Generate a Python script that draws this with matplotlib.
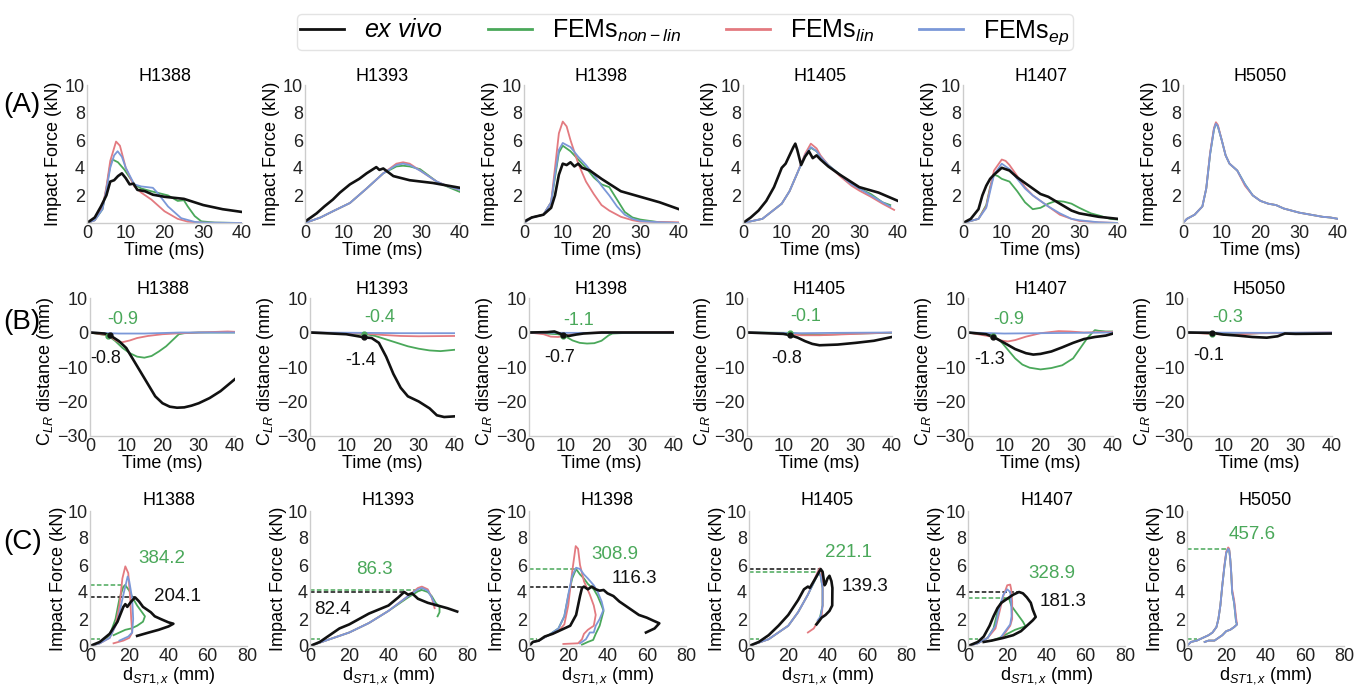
import numpy as np
import matplotlib.pyplot as plt
from matplotlib.lines import Line2D

plt.rcParams['font.family'] = ['Liberation Sans', 'DejaVu Sans']
plt.rcParams['mathtext.fontset'] = 'custom'
plt.rcParams['mathtext.rm'] = 'Liberation Sans'
plt.rcParams['mathtext.it'] = 'Liberation Sans:italic'
plt.rcParams['mathtext.bf'] = 'Liberation Sans:bold'

specimens = ["H1388", "H1393", "H1398", "H1405", "H1407", "H5050"]

# ---- (A) impact force (kN) vs time (ms): (time, force)
h5050_t = [0, 1, 3, 5, 6, 7, 8, 8.5, 9, 10, 11, 12, 14, 16, 18, 20, 22, 24, 26, 28, 30, 33, 36, 38, 40]
h5050_f = [0, 0.3, 0.6, 1.2, 2.5, 5.0, 6.8, 7.2, 7.0, 6.0, 4.9, 4.3, 3.8, 2.8, 2.0, 1.6, 1.4, 1.3, 1.05, 0.9, 0.75, 0.6, 0.45, 0.4, 0.3]

force_exvivo = {
    "H1388": ([0, 2, 3.6, 5, 6, 7, 8, 9, 10, 11, 12, 13, 15, 17, 20, 25, 30, 35, 40],
              [0, 0.4, 1.2, 2.0, 3.0, 3.1, 3.4, 3.6, 3.25, 2.8, 2.85, 2.4, 2.3, 2.05, 1.9, 1.75, 1.3, 1.0, 0.8]),
    "H1393": ([0, 3, 5, 7.2, 9, 11.6, 14, 15.9, 18.4, 19.2, 20.2, 22.8, 27, 33, 40],
              [0.1, 0.7, 1.2, 1.7, 2.2, 2.8, 3.2, 3.6, 4.05, 3.85, 3.95, 3.4, 3.1, 2.9, 2.55]),
    "H1398": ([0, 2, 5, 7, 8, 9, 10, 11, 12, 13, 14, 15, 17, 20, 25, 30, 35, 40],
              [0.1, 0.4, 0.6, 1.1, 2.0, 3.5, 4.3, 4.2, 4.4, 4.1, 4.3, 4.0, 3.8, 3.2, 2.3, 1.9, 1.5, 1.0]),
    "H1405": ([0, 2, 4, 6, 8, 10, 11, 12, 13, 13.5, 14, 15, 16, 17, 18, 19, 20, 22, 25, 30, 35, 40],
              [0, 0.4, 0.9, 1.6, 2.6, 4.0, 4.3, 4.9, 5.5, 5.75, 5.3, 4.2, 4.8, 5.2, 4.7, 4.9, 4.6, 4.1, 3.5, 2.6, 2.2, 1.6]),
    "H1407": ([0, 2, 4, 5, 6, 7, 8, 10, 12, 14, 16, 18, 20, 22, 25, 28, 30, 35, 40],
              [0, 0.3, 1.0, 2.0, 2.7, 3.2, 3.5, 4.0, 3.8, 3.3, 2.9, 2.5, 2.1, 1.9, 1.4, 0.9, 0.7, 0.45, 0.3]),
    "H5050": None,
}
force_nonlin = {
    "H1388": ([0, 2, 4, 5, 6, 6.6, 8, 9.7, 12.2, 14, 16.6, 20.9, 23.4, 25, 26, 27.8, 29.5, 33, 40],
              [0, 0.2, 1.0, 2.5, 4.2, 4.6, 4.4, 3.85, 2.8, 2.5, 2.3, 2.0, 1.6, 1.65, 1.2, 0.5, 0.12, 0.03, 0]),
    "H1393": ([0, 4, 7.2, 11.6, 15.9, 20.2, 23.6, 25.3, 27, 29.7, 34, 37, 40],
              [0, 0.4, 0.85, 1.45, 2.5, 3.6, 4.1, 4.15, 4.1, 3.9, 3.0, 2.6, 2.25]),
    "H1398": ([0, 2, 5, 7, 8, 9, 10, 12, 14, 16, 18, 20, 22, 24, 26, 28, 30, 35, 40],
              [0, 0.4, 0.6, 1.5, 3.3, 5.1, 5.6, 5.2, 4.6, 4.0, 3.3, 2.8, 2.6, 1.7, 0.8, 0.4, 0.25, 0.05, 0]),
    "H1405": ([0, 5, 10, 12, 14, 16, 17.5, 19, 20, 22, 25, 28, 30, 33, 36, 38],
              [0, 0.3, 1.4, 2.3, 3.6, 4.9, 5.45, 5.2, 4.8, 4.2, 3.5, 2.8, 2.5, 2.1, 1.5, 1.3]),
    "H1407": ([0, 4, 6, 7, 8, 9, 10, 12, 14, 16, 18, 20, 22, 24, 26, 28, 30, 33, 35, 38, 40],
              [0, 0.3, 1.3, 2.6, 3.5, 3.4, 3.2, 3.0, 2.3, 1.5, 1.0, 1.1, 1.4, 1.6, 1.55, 1.4, 1.1, 0.7, 0.55, 0.3, 0.25]),
    "H5050": (h5050_t, h5050_f),
}
force_lin = {
    "H1388": ([0, 2, 4, 5, 6, 7.5, 8.5, 10, 12.2, 14, 16.6, 20, 23.4, 26, 30, 40],
              [0, 0.2, 1.1, 2.6, 4.5, 5.9, 5.6, 4.0, 2.65, 2.2, 1.7, 0.85, 0.3, 0.1, 0.02, 0]),
    "H1393": ([0, 4, 7.2, 11.6, 15.9, 20.2, 23.6, 25.3, 27, 29.7, 34, 37, 40],
              [0, 0.4, 0.85, 1.45, 2.5, 3.6, 4.3, 4.4, 4.3, 3.8, 3.0, 2.65, 2.4]),
    "H1398": ([0, 2, 5, 7, 8, 9, 10, 11, 12, 14, 16, 18, 20, 22, 25, 28, 30, 40],
              [0, 0.4, 0.6, 1.5, 4.0, 6.5, 7.35, 7.0, 6.0, 4.3, 3.0, 2.1, 1.3, 0.9, 0.45, 0.2, 0.1, 0.05]),
    "H1405": ([0, 5, 10, 12, 14, 16, 17.5, 19, 20, 22, 25, 28, 30, 33, 36, 39],
              [0, 0.3, 1.4, 2.3, 3.6, 5.0, 5.75, 5.4, 4.9, 4.2, 3.4, 2.7, 2.35, 1.9, 1.4, 0.95]),
    "H1407": ([0, 4, 6, 7, 8, 10, 11, 12, 14, 16, 18, 20, 22, 25, 28, 30, 35, 40],
              [0, 0.3, 1.2, 2.5, 3.8, 4.6, 4.5, 4.2, 3.4, 2.6, 2.0, 1.6, 1.2, 0.6, 0.3, 0.15, 0.05, 0]),
    "H5050": (h5050_t, [0, 0.3, 0.6, 1.2, 2.5, 5.1, 6.9, 7.3, 7.1, 6.0, 4.9, 4.3, 3.8, 2.7, 2.0, 1.6, 1.4, 1.3, 1.05, 0.9, 0.75, 0.6, 0.45, 0.4, 0.3]),
}
force_ep = {
    "H1388": ([0, 2, 4, 5, 6, 7, 7.9, 9, 10, 12.2, 14, 17, 18.3, 20.9, 24.3, 27.8, 30, 40],
              [0, 0.2, 1.0, 2.4, 4.0, 4.9, 5.2, 4.8, 4.0, 2.8, 2.65, 2.55, 2.15, 1.2, 0.35, 0.08, 0.03, 0]),
    "H1393": ([0, 4, 7.2, 11.6, 15.9, 20.2, 23.6, 25.3, 27, 29.7, 34, 37, 40],
              [0, 0.4, 0.85, 1.45, 2.5, 3.6, 4.2, 4.3, 4.2, 3.8, 3.0, 2.65, 2.4]),
    "H1398": ([0, 2, 5, 7, 8, 9, 10, 12, 14, 16, 18, 20, 22, 24, 26, 28, 30, 35, 40],
              [0, 0.4, 0.6, 1.5, 3.5, 5.3, 5.8, 5.5, 4.8, 4.2, 3.5, 2.7, 2.0, 1.2, 0.6, 0.3, 0.15, 0.05, 0]),
    "H1405": ([0, 5, 10, 12, 14, 16, 17.5, 19, 20, 22, 25, 28, 30, 33, 36, 38],
              [0, 0.3, 1.4, 2.3, 3.6, 4.9, 5.5, 5.2, 4.8, 4.2, 3.5, 2.8, 2.5, 2.0, 1.5, 1.2]),
    "H1407": ([0, 4, 6, 7, 8, 10, 12, 14, 16, 18, 20, 22, 25, 28, 30, 35, 40],
              [0, 0.3, 1.1, 2.3, 3.5, 4.3, 3.9, 3.2, 2.5, 2.0, 1.6, 1.2, 0.7, 0.3, 0.2, 0.05, 0]),
    "H5050": (h5050_t, h5050_f),
}

# ---- (B) C_LR distance (mm) vs time (ms)
clr_exvivo = {
    "H1388": ([0, 4, 5.5, 8, 10, 12, 14, 16, 18, 20, 22, 24, 26, 28, 30, 33, 36, 40],
              [0, -0.3, -0.8, -2.5, -4.5, -8, -11.5, -15, -18.5, -20.5, -21.5, -21.8, -21.7, -21.2, -20.5, -19, -17, -13.5]),
    "H1393": ([0, 10, 15, 17, 19, 21, 23, 25, 27, 30, 33, 35, 37, 40],
              [0, -0.5, -1.4, -1.6, -3, -7, -12, -16, -18.5, -20, -22, -24, -24.5, -24.3]),
    "H1398": ([0, 5, 7, 8.5, 9.5, 11, 13, 15, 20, 40],
              [0, 0.1, 0.3, -0.3, -0.7, -1.0, -0.6, -0.3, 0, 0]),
    "H1405": ([0, 10, 12, 14, 16, 18, 20, 25, 30, 35, 40],
              [0, -0.4, -0.8, -1.5, -2.5, -3.3, -3.7, -3.5, -3.0, -2.4, -1.3]),
    "H1407": ([0, 5, 7, 10, 13, 16, 18, 20, 23, 26, 29, 32, 35, 38, 40],
              [0, -0.5, -1.3, -3.0, -4.8, -6.0, -6.4, -6.2, -5.5, -4.3, -3.0, -1.9, -1.3, -0.9, -0.3]),
    "H5050": ([0, 7, 10, 14, 18, 22, 25, 27, 30, 40],
              [0, -0.1, -0.6, -0.9, -1.3, -1.5, -1.1, -0.3, -0.4, -0.3]),
}
clr_nonlin = {
    "H1388": ([0, 5, 7, 9, 11, 13, 15, 17, 19, 21, 23, 24.5, 26, 30, 40],
              [0, -0.9, -2.5, -4.5, -6, -7, -7.3, -6.8, -5.5, -4, -2, -0.5, -0.2, 0, 0]),
    "H1393": ([0, 15, 18, 21, 24, 27, 30, 33, 36, 40],
              [0, -0.4, -1.0, -2, -3, -4, -4.7, -5.2, -5.4, -5.0]),
    "H1398": ([0, 8, 10, 12, 14, 16, 18, 20, 22, 23, 25, 30, 40],
              [0, -0.5, -1.1, -2.3, -3.0, -3.2, -3.1, -2.4, -0.8, -0.3, -0.2, 0, 0]),
    "H1405": ([0, 12, 16, 20, 25, 30, 40],
              [0, -0.1, -0.6, -0.7, -0.5, -0.3, -0.1]),
    "H1407": ([0, 7, 9, 11, 13, 15, 17, 20, 23, 26, 29, 31, 33, 35, 36, 38, 40],
              [0, -0.9, -2.5, -5, -7.5, -9.3, -10.2, -10.7, -10.3, -9.5, -7.5, -4.5, -1.5, 0.7, 0.5, 0.3, 0.3]),
    "H5050": ([0, 7, 10, 12, 20, 40],
              [0, -0.3, -0.5, -0.4, -0.2, -0.2]),
}
clr_lin = {
    "H1388": ([0, 5, 7, 8, 9, 11, 13, 16, 20, 25, 30, 38, 40],
              [0, -0.8, -2.2, -2.8, -2.8, -2.3, -1.6, -1.0, -0.5, -0.2, 0, 0.3, 0.2]),
    "H1393": ([0, 15, 20, 25, 30, 40],
              [0, -0.3, -0.7, -1.0, -1.1, -1.0]),
    "H1398": ([0, 4, 6, 8, 10, 12, 15, 20, 40],
              [0, -0.5, -1.2, -1.3, -1.0, -0.5, -0.2, 0, 0.2]),
    "H1405": ([0, 10, 15, 20, 30, 40],
              [0, -0.3, -0.8, -0.8, -0.4, 0]),
    "H1407": ([0, 7, 9, 11, 13, 16, 20, 25, 28, 32, 40],
              [0, -1.3, -2.3, -2.6, -2.2, -1.2, -0.2, 0.4, 0.3, 0, 0.2]),
    "H5050": ([0, 10, 15, 20, 40],
              [0, -0.6, -0.5, -0.2, 0]),
}
clr_ep = {
    "H1388": ([0, 8, 15, 25, 40], [0, -0.3, -0.3, 0, 0]),
    "H1393": ([0, 15, 25, 40], [0, -0.1, -0.2, -0.2]),
    "H1398": ([0, 10, 20, 40], [0, -0.1, -0.1, 0]),
    "H1405": ([0, 15, 25, 40], [0, -0.2, -0.1, 0]),
    "H1407": ([0, 10, 20, 40], [0, -0.3, -0.2, 0]),
    "H5050": ([0, 20, 40], [0, -0.1, 0]),
}
onset_t_exvivo = [5.5, 15, 9.5, 12, 7, 7]
onset_exvivo = [-0.8, -1.4, -0.7, -0.8, -1.3, -0.1]
onset_t_nonlin = [5, 15, 9.5, 12, 7, 7]
onset_nonlin = [-0.9, -0.4, -1.1, -0.1, -0.9, -0.3]

# ---- (C) impact force (kN) vs d_ST1,x (mm)
h5050_d = [0, 2, 5, 8, 11, 13, 15, 16, 17, 18, 19, 20, 21, 21.5, 22, 22.5, 23, 23.5, 24, 24.5, 25, 25.5, 24, 22, 20, 18, 16, 14, 11, 9]
h5050_c = [0, 0.3, 0.4, 0.6, 0.8, 1.0, 1.4, 2.0, 3.0, 4.5, 5.8, 6.9, 7.2, 7.1, 6.5, 5.5, 4.0, 3.6, 3.2, 2.5, 1.8, 1.6, 1.4, 1.2, 1.1, 0.8, 0.6, 0.4, 0.4, 0.3]

fd_exvivo = {
    "H1388": ([0, 5, 10, 14, 17, 18, 19, 21, 23, 25, 27, 29, 31, 33, 36, 40, 42.5, 40, 35, 30, 24],
              [0, 0.3, 0.9, 1.8, 2.9, 3.1, 2.9, 3.3, 3.6, 3.3, 2.9, 2.7, 2.5, 2.2, 2.0, 1.75, 1.65, 1.45, 1.2, 1.0, 0.75]),
    "H1393": ([0, 5, 10, 15, 20, 25, 30, 35, 40, 45, 48, 50, 52, 55, 60, 65, 70, 75],
              [0, 0.3, 0.8, 1.3, 1.6, 2.0, 2.4, 2.7, 3.0, 3.6, 4.0, 3.8, 3.9, 3.5, 3.2, 3.0, 2.8, 2.55]),
    "H1398": ([0, 2, 5, 8, 12, 15, 18, 21, 24, 25, 26, 27, 28, 30, 32, 34, 36, 38, 40, 43, 46, 50, 53, 56, 60, 63, 66.4, 64, 59.6],
              [0, 0.3, 0.4, 0.7, 0.9, 1.1, 1.3, 1.5, 2.3, 3.0, 3.7, 4.3, 4.4, 4.2, 4.4, 4.2, 4.1, 4.15, 3.9, 3.7, 3.3, 2.9, 2.6, 2.3, 2.1, 1.9, 1.68, 1.3, 1.0]),
    "H1405": ([0, 5, 10, 15, 20, 25, 28, 30, 31, 33, 35, 36.5, 37.5, 38.5, 39, 40, 41, 42, 42.5, 42.4, 41, 39, 37, 36, 34.4],
              [0, 0.3, 0.8, 1.5, 2.3, 3.4, 4.2, 4.4, 4.3, 4.8, 5.3, 5.7, 5.5, 4.5, 4.6, 5.0, 5.2, 4.8, 4.3, 3.0, 2.6, 2.3, 2.1, 1.9, 1.6]),
    "H1407": ([0, 5, 8, 11, 13, 15, 17, 20, 23, 26, 28, 30, 32, 33, 34.5, 33, 30, 27, 23, 18, 12, 8],
              [0, 0.3, 0.7, 1.5, 2.2, 2.8, 3.2, 3.5, 3.8, 4.0, 3.9, 3.6, 3.2, 2.7, 2.15, 1.9, 1.5, 1.1, 0.8, 0.6, 0.4, 0.3]),
    "H5050": None,
}
fd_nonlin = {
    "H1388": ([0, 5, 10, 13, 15, 17, 18, 20, 22, 24, 26, 28, 27, 24, 21, 18, 15, 12],
              [0, 0.2, 0.8, 2.0, 3.5, 4.4, 4.5, 4.1, 3.5, 3.0, 2.6, 2.2, 1.8, 1.5, 1.3, 1.2, 1.0, 0.8]),
    "H1393": ([0, 10, 20, 30, 40, 50, 55, 57, 60, 62, 64, 66, 66, 65],
              [0, 0.5, 1.0, 1.7, 2.6, 3.6, 4.05, 4.15, 4.0, 3.7, 3.2, 2.9, 2.5, 2.2]),
    "H1398": ([0, 2, 5, 10, 15, 18, 20, 22, 24, 26, 28, 30, 33, 35, 37, 38, 36, 34, 32.7, 30, 27],
              [0, 0.3, 0.4, 0.8, 1.3, 2.2, 3.7, 5.0, 5.7, 5.3, 5.0, 4.6, 4.2, 3.7, 3.0, 2.6, 1.5, 0.9, 0.45, 0.3, 0.1]),
    "H1405": ([0, 10, 20, 25, 30, 33, 35.5, 36.5, 37.5, 37.5, 36, 34],
              [0, 0.5, 1.5, 2.5, 3.8, 4.7, 5.45, 5.2, 4.3, 3.0, 2.0, 1.6]),
    "H1407": ([0, 5, 10, 13, 15, 17, 19, 21, 22, 24, 26, 28, 29.3, 28, 24, 20, 16, 12],
              [0, 0.2, 0.6, 1.3, 2.5, 3.3, 3.55, 3.5, 3.0, 2.6, 2.2, 1.8, 1.45, 1.4, 1.2, 0.9, 0.6, 0.4]),
    "H5050": (h5050_d, h5050_c),
}
fd_lin = {
    "H1388": ([0, 5, 10, 13, 15, 16.5, 18, 19.5, 20.5, 21, 21.5, 20, 17, 12],
              [0, 0.2, 0.6, 1.5, 3.0, 5.0, 5.9, 5.4, 3.5, 2.0, 1.0, 0.6, 0.4, 0.2]),
    "H1393": ([0, 10, 20, 30, 40, 50, 55, 57, 60, 62, 63.5],
              [0, 0.5, 1.0, 1.7, 2.6, 3.7, 4.3, 4.4, 4.2, 3.6, 2.8]),
    "H1398": ([0, 2, 5, 10, 15, 18, 20, 22, 23.8, 25, 26, 28, 31, 33, 34, 33, 30, 28, 27, 25, 17.5],
              [0, 0.3, 0.4, 0.8, 1.1, 1.6, 3.0, 5.5, 7.4, 7.2, 6.0, 4.8, 3.8, 3.0, 2.3, 1.5, 1.2, 0.9, 0.5, 0.2, 0.15]),
    "H1405": ([0, 10, 20, 25, 30, 33, 35, 36, 37, 37.5, 37.5, 37, 35, 33, 30],
              [0, 0.5, 1.5, 2.5, 3.8, 4.8, 5.5, 5.75, 5.5, 4.5, 3.0, 2.2, 1.8, 1.3, 1.0]),
    "H1407": ([0, 5, 10, 14, 16, 18, 20, 21.5, 22, 22.5, 22.5, 21.5, 19, 17],
              [0, 0.2, 0.6, 1.3, 2.5, 3.7, 4.5, 4.55, 4.2, 3.3, 2.0, 1.5, 1.0, 0.6]),
    "H5050": (h5050_d, [0, 0.3, 0.4, 0.6, 0.8, 1.0, 1.4, 2.0, 3.0, 4.5, 5.9, 7.0, 7.3, 7.2, 6.5, 5.5, 4.2, 3.8, 3.4, 2.8, 2.1, 1.6, 1.4, 1.2, 1.1, 0.8, 0.6, 0.4, 0.4, 0.3]),
}
fd_ep = {
    "H1388": ([0, 5, 10, 14, 17, 19.2, 20, 21.5, 22, 21.5, 19.5, 15],
              [0, 0.2, 0.6, 1.8, 3.8, 5.15, 4.8, 3.5, 2.0, 1.0, 0.7, 0.4]),
    "H1393": ([0, 10, 20, 30, 40, 50, 55, 57, 60, 62, 64],
              [0, 0.5, 1.0, 1.7, 2.6, 3.7, 4.2, 4.3, 4.1, 3.6, 3.0]),
    "H1398": ([0, 2, 5, 10, 15, 18, 20, 22, 24, 26, 28, 30, 33, 35, 37, 38, 36, 34, 33, 31, 29, 26],
              [0, 0.3, 0.4, 0.8, 1.3, 2.2, 3.8, 5.2, 5.8, 5.7, 5.3, 5.0, 4.5, 4.0, 3.3, 2.7, 2.0, 1.5, 1.0, 1.0, 0.5, 0.2]),
    "H1405": ([0, 10, 20, 25, 30, 33, 35.5, 36.5, 37.5, 37.5, 36.5, 35],
              [0, 0.5, 1.5, 2.5, 3.8, 4.7, 5.5, 5.2, 4.3, 3.0, 2.2, 1.9]),
    "H1407": ([0, 5, 10, 14, 16, 18, 20, 21.5, 22, 22.2, 21.5, 19.5, 17],
              [0, 0.2, 0.6, 1.5, 2.8, 3.8, 4.2, 4.0, 3.3, 2.2, 1.6, 1.2, 0.7]),
    "H5050": (h5050_d, h5050_c),
}
onset_force = [0.5, 0.5, 0.5, 0.5, 0.5, 0.5]
onset_disp = [5, 5, 4, 5, 5, 5]
energy_nonlin = ["384.2", "86.3", "308.9", "221.1", "328.9", "457.6"]
energy_exvivo = ["204.1", "82.4", "116.3", "139.3", "181.3", None]
energy_nonlin_xy = [(36.7, 6.45), (32.6, 5.7), (43.9, 6.75), (50.5, 6.9), (42.8, 5.4), (33, 8.25)]
energy_exvivo_xy = [(44.4, 3.7), (11.2, 2.7), (53.6, 5.0), (59.2, 4.4), (48.5, 3.27), None]

c_ex, c_nl, c_lin, c_ep = "#111111", "#4aa85a", "#e37a80", "#7b98d8"
series = [("nonlin", c_nl, 1.3, 2.0), ("lin", c_lin, 1.3, 2.1), ("ep", c_ep, 1.3, 2.2), ("exvivo", c_ex, 1.9, 2.3)]
fs = 13

W, H = 1364, 685
fig = plt.figure(figsize=(W / 100, H / 100), dpi=100)


def px_axes(left, top, width, height):
    return fig.add_axes([left / W, 1 - (top + height) / H, width / W, height / H])


def style(ax):
    for s in ["top", "right"]:
        ax.spines[s].set_visible(False)
    for s in ["left", "bottom"]:
        ax.spines[s].set_color("#cccccc")
        ax.spines[s].set_linewidth(1.0)
    ax.tick_params(length=0, labelsize=fs, colors="#222222", pad=1.5)


def draw(ax, data, name):
    for key, col, lw, z in series:
        d = data[key][name]
        if d is None:
            continue
        ax.plot(d[0], d[1], color=col, lw=lw, zorder=z)


rows = {
    "A": dict(nonlin=force_nonlin, lin=force_lin, ep=force_ep, exvivo=force_exvivo),
    "B": dict(nonlin=clr_nonlin, lin=clr_lin, ep=clr_ep, exvivo=clr_exvivo),
    "C": dict(nonlin=fd_nonlin, lin=fd_lin, ep=fd_ep, exvivo=fd_exvivo),
}

lefts_a = [87, 305, 524, 743, 963, 1183]
lefts_b = [90, 310, 529, 747, 968, 1187]
lefts_c = [90, 310, 529, 749, 968, 1187]

for i, name in enumerate(specimens):
    # row A
    ax = px_axes(lefts_a[i], 85, 155, 138)
    style(ax)
    draw(ax, rows["A"], name)
    ax.set_xlim(0, 40)
    ax.set_ylim(0, 10)
    ax.set_xticks([0, 10, 20, 30, 40])
    ax.set_yticks([2, 4, 6, 8, 10])
    ax.set_title(name, fontsize=fs, pad=3)
    ax.set_xlabel("Time (ms)", fontsize=fs, labelpad=0)
    ax.set_ylabel("Impact Force (kN)", fontsize=fs)
    ax.yaxis.set_label_coords(-25 / 155, 0.5)

    # row B
    ax = px_axes(lefts_b[i], 298, 145, 138)
    style(ax)
    draw(ax, rows["B"], name)
    ax.plot(onset_t_exvivo[i], onset_exvivo[i], "o", color=c_ex, ms=3.5, zorder=5)
    ax.plot(onset_t_nonlin[i], onset_nonlin[i], "o", color=c_nl, ms=3.5, zorder=4)
    ax.annotate(f"{onset_nonlin[i]}", (onset_t_nonlin[i], onset_nonlin[i]), xytext=(15, 16),
                textcoords="offset pixels", ha="center", va="center", color=c_nl, fontsize=fs)
    ax.annotate(f"{onset_exvivo[i]}", (onset_t_exvivo[i], onset_exvivo[i]), xytext=(-4, -23),
                textcoords="offset pixels", ha="center", va="center", color=c_ex, fontsize=fs)
    ax.set_xlim(0, 40)
    ax.set_ylim(-30, 10)
    ax.set_xticks([0, 10, 20, 30, 40])
    ax.set_yticks([-30, -20, -10, 0, 10])
    ax.set_title(name, fontsize=fs, pad=2)
    ax.set_xlabel("Time (ms)", fontsize=fs, labelpad=0)
    ax.set_ylabel("C$_{LR}$ distance (mm)", fontsize=fs)
    ax.yaxis.set_label_coords(-34 / 145, 0.47)

    # row C
    ax = px_axes(lefts_c[i], 511, 157, 135)
    style(ax)
    draw(ax, rows["C"], name)
    d_nl = fd_nonlin[name]
    k = int(np.argmax(d_nl[1]))
    ax.hlines(d_nl[1][k], 0, d_nl[0][k], colors=c_nl, linestyles=(0, (3, 1.5)), lw=1.1)
    ax.hlines(onset_force[i], 0, onset_disp[i], colors=c_nl, linestyles=(0, (3, 1.5)), lw=1.1)
    ax.annotate(energy_nonlin[i], energy_nonlin_xy[i], ha="center", va="center", color=c_nl, fontsize=fs + 0.5)
    d_ex = fd_exvivo[name]
    if d_ex is not None:
        k = int(np.argmax(d_ex[1]))
        ax.hlines(d_ex[1][k], 0, d_ex[0][k], colors=c_ex, linestyles=(0, (3, 1.5)), lw=1.1)
        ax.annotate(energy_exvivo[i], energy_exvivo_xy[i], ha="center", va="center", color=c_ex, fontsize=fs + 0.5)
    ax.set_xlim(0, 80)
    ax.set_ylim(0, 10)
    ax.set_xticks([0, 20, 40, 60, 80])
    ax.set_yticks([0, 2, 4, 6, 8, 10])
    ax.set_title(name, fontsize=fs, pad=4)
    ax.set_xlabel("d$_{ST1,x}$ (mm)", fontsize=fs, labelpad=0)
    ax.set_ylabel("Impact Force (kN)", fontsize=fs)
    ax.yaxis.set_label_coords(-23 / 157, 0.5)

for lab, y in [("(A)", 105), ("(B)", 322), ("(C)", 542)]:
    fig.text(3 / W, 1 - y / H, lab, fontsize=20, va="center", ha="left")

handles = [Line2D([], [], color=c_ex, lw=2), Line2D([], [], color=c_nl, lw=2),
           Line2D([], [], color=c_lin, lw=2), Line2D([], [], color=c_ep, lw=2)]
labels = [r"$ex\ vivo$", r"FEMs$_{non-lin}$", r"FEMs$_{lin}$", r"FEMs$_{ep}$"]
leg = fig.legend(handles, labels, loc="center", bbox_to_anchor=(685 / W, 1 - 32 / H), ncol=4,
                 fontsize=18, frameon=True, handlelength=1.75, columnspacing=1.8,
                 handletextpad=0.8, borderpad=0.15, fancybox=True)
leg.get_frame().set_edgecolor("#dddddd")

fig.savefig("out.png", dpi=100)
